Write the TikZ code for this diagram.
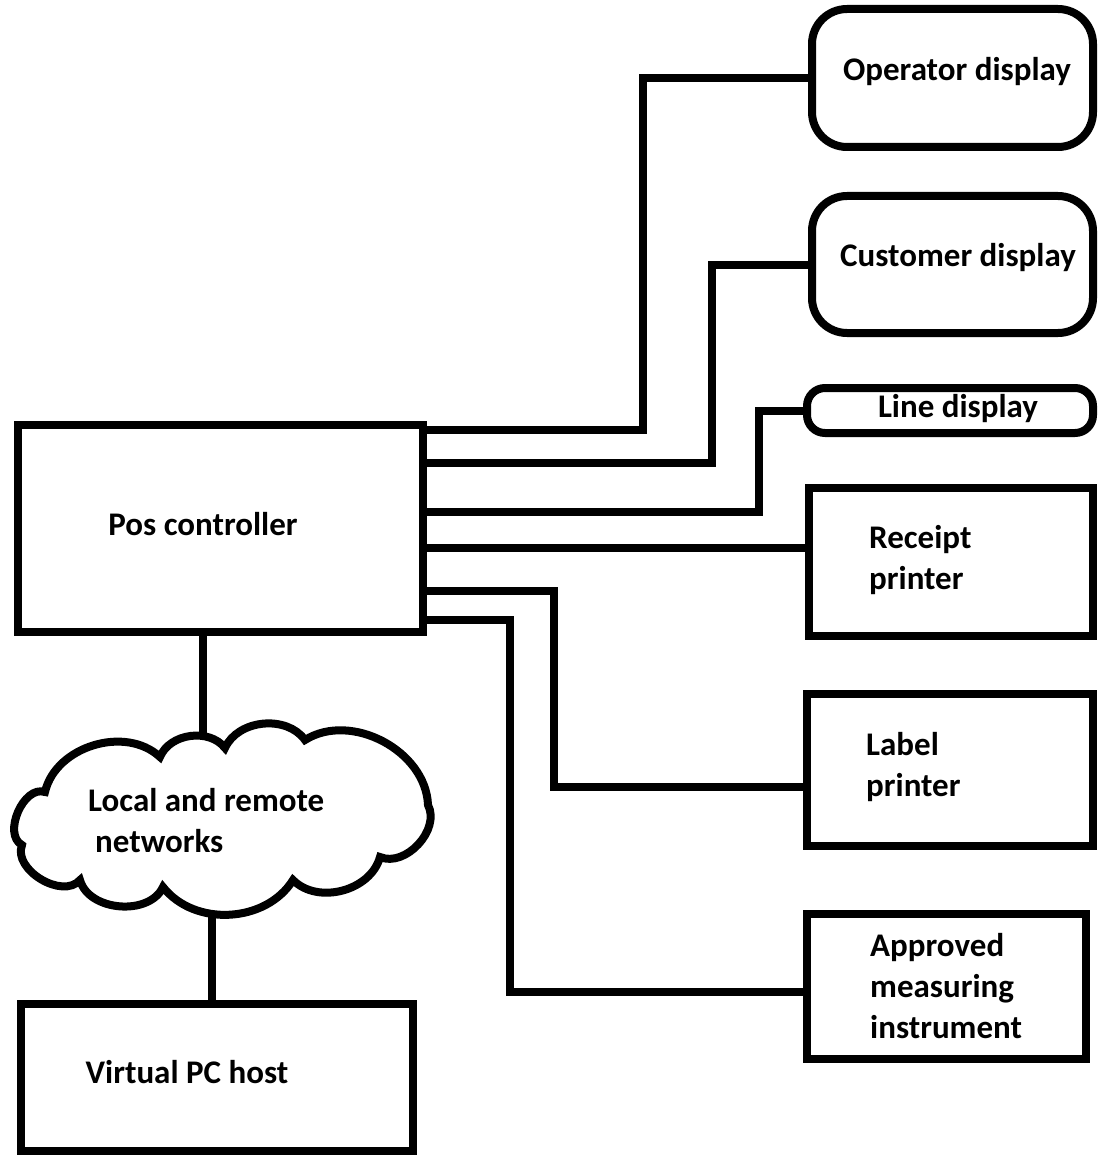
\documentclass[tikz,border=0pt]{standalone}
\usepackage{fontspec}
\setmainfont{Carlito}
\usetikzlibrary{backgrounds}
\begin{document}
\begin{tikzpicture}[x=1pt,y=-1pt,
  box/.style={draw, line width=8pt, fill=white, inner sep=0pt},
  rbox/.style={box, rounded corners=#1},
  lbl/.style={font=\fontsize{33}{41}\selectfont\bfseries, inner sep=0pt, align=left},
  wire/.style={line width=8pt}]
\useasboundingbox (0,0) rectangle (1101,1158);
% boxes
\node[box, minimum width=405, minimum height=207] (pos) at (220.5,528.5) {};
\node[rbox=35, minimum width=281, minimum height=138] (od) at (952.5,78) {};
\node[rbox=35, minimum width=281, minimum height=137] (cd) at (952.5,264.5) {};
\node[rbox=18, minimum width=286, minimum height=45] (ld) at (950,410.5) {};
\node[box, minimum width=284, minimum height=148] (rp) at (951,562) {};
\node[box, minimum width=286, minimum height=152] (lp) at (950,770) {};
\node[box, minimum width=279, minimum height=145] (ami) at (946.5,986.5) {};
\node[box, minimum width=392, minimum height=147] (vpc) at (217,1077.5) {};
% cloud
\draw[line width=8pt, fill=white] (22,845) to[bend left=85] (45,792) to[bend left=60] (160,757)
  to[bend left=60] (225,748) to[bend left=60] (305,740) to[bend left=60] (428,805)
  to[bend left=70] (380,857) to[bend left=60] (293,880) to[bend left=55] (163,887)
  to[bend left=70] (80,880) to[bend left=80] (22,845) -- cycle;
\coordinate (nettop) at (203,765);
\coordinate (netbot) at (212,895);
% labels
\node[lbl] (posT) at (203,524) {Pos controller};
\node[lbl] (odT) at (957,72) {Operator display};
\node[lbl] (cdT) at (958,258) {Customer display};
\node[lbl] (ldT) at (958,409) {Line display};
\node[lbl, anchor=west] (rpT) at (869,560) {Receipt\\printer};
\node[lbl, anchor=west] (lpT) at (866,767) {Label\\printer};
\node[lbl, anchor=west] (amiT) at (870,986) {Approved\\measuring\\instrument};
\node[lbl] (vpcT) at (187,1072) {Virtual PC host};
\node[lbl, anchor=west] (netT) at (88,821) {Local and remote\\\hspace*{7pt}networks};
% connectors
\begin{pgfonlayer}{background}
\draw[wire] (pos.east |- 0,430) -- (643,430) |- (od.west);
\draw[wire] (pos.east |- 0,463) -- (712,463) |- (cd.west);
\draw[wire] (pos.east |- 0,512) -- (759,512) |- (ld.west);
\draw[wire] (pos.east |- 0,548) -- (rp.west |- 0,548);
\draw[wire] (pos.east |- 0,591) -- (554,591) -- (554,787) -- (lp.west |- 0,787);
\draw[wire] (pos.east |- 0,620) -- (510,620) -- (510,992) -- (ami.west |- 0,992);
\draw[wire] (pos.south -| 203,0) -- (nettop);
\draw[wire] (netbot) -- (vpc.north -| 212,0);
\end{pgfonlayer}
\end{tikzpicture}
\end{document}
